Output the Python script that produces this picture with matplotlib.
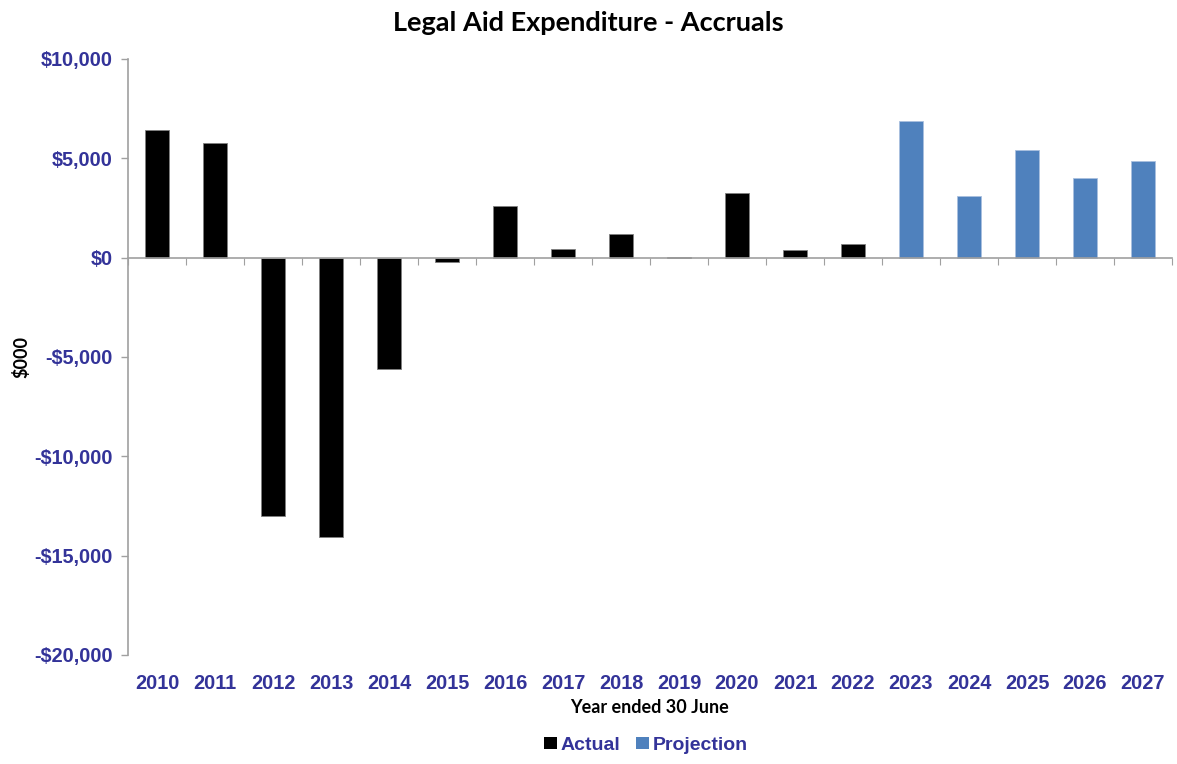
import numpy as np
import matplotlib.pyplot as plt
from matplotlib.patches import Patch

# Data ($000)
years = ['2010', '2011', '2012', '2013', '2014', '2015', '2016', '2017', '2018',
         '2019', '2020', '2021', '2022', '2023', '2024', '2025', '2026', '2027']
actual = [6430, 5780, -12980, -14060, -5600, -200, 2580, 450, 1200,
          30, 3230, 400, 680]
projection = [6880, 3080, 5430, 3985, 4870]

label_blue = '#333399'
proj_blue = '#4F81BD'
axis_grey = '#A0A0A0'

fig = plt.figure(figsize=(11.77, 7.64), dpi=100)
ax = fig.add_axes([0.1088, 0.1427, 0.8869, 0.7801])

x = np.arange(len(years))
n_act = len(actual)
ax.bar(x[:n_act], actual, width=0.4, color='black', edgecolor='#808080', linewidth=0.6)
ax.bar(x[n_act:], projection, width=0.4, color=proj_blue, edgecolor='#A9C0DF', linewidth=0.6)

ax.set_xlim(-0.5, len(years) - 0.5)
ax.set_ylim(-20000, 10000)
ax.set_yticks(np.arange(-20000, 10001, 5000))
ax.set_yticklabels([('-$' if v < 0 else '$') + f'{abs(v):,}' for v in range(-20000, 10001, 5000)],
                   fontfamily='Liberation Sans', fontweight='bold', fontsize=14.3, color=label_blue)
ax.tick_params(axis='y', direction='out', length=5, color=axis_grey, width=1, pad=6)

# zero line with category boundary ticks
ax.spines['bottom'].set_position(('data', 0))
ax.spines['bottom'].set_color(axis_grey)
ax.spines['bottom'].set_linewidth(1.2)
ax.set_xticks(np.arange(-0.5, len(years) + 0.5, 1))
ax.tick_params(axis='x', direction='out', length=5, color=axis_grey, labelbottom=False)

ax.spines['left'].set_color(axis_grey)
ax.spines['left'].set_linewidth(1.2)
ax.spines['top'].set_visible(False)
ax.spines['right'].set_visible(False)

# year labels at the bottom of the plot area
sec = ax.secondary_xaxis('bottom')
sec.set_xticks(x)
sec.set_xticklabels(years, fontfamily='Liberation Sans', fontweight='bold', fontsize=14.3, color=label_blue)
sec.tick_params(length=0, pad=14)
sec.spines['bottom'].set_visible(False)
sec.set_xlabel('Year ended 30 June', fontfamily='Lato', fontweight='bold', fontsize=13, labelpad=4)

ax.set_ylabel('$000', fontfamily='Lato', fontweight='bold', fontsize=13, labelpad=3)
fig.suptitle('Legal Aid Expenditure - Accruals', fontfamily='Lato', fontweight='bold',
             fontsize=19.5, x=0.5, y=0.985)

handles = [Patch(facecolor='black', edgecolor='none'), Patch(facecolor=proj_blue, edgecolor='none')]
leg = fig.legend(handles, ['Actual', 'Projection'], loc='center', bbox_to_anchor=(0.549, 0.024),
                 ncol=2, frameon=False, handlelength=0.65, handleheight=0.6, handletextpad=0.2,
                 columnspacing=0.8, prop={'family': 'Liberation Sans', 'weight': 'bold', 'size': 14})
for t in leg.get_texts():
    t.set_color(label_blue)

fig.savefig('out.png', dpi=100)
